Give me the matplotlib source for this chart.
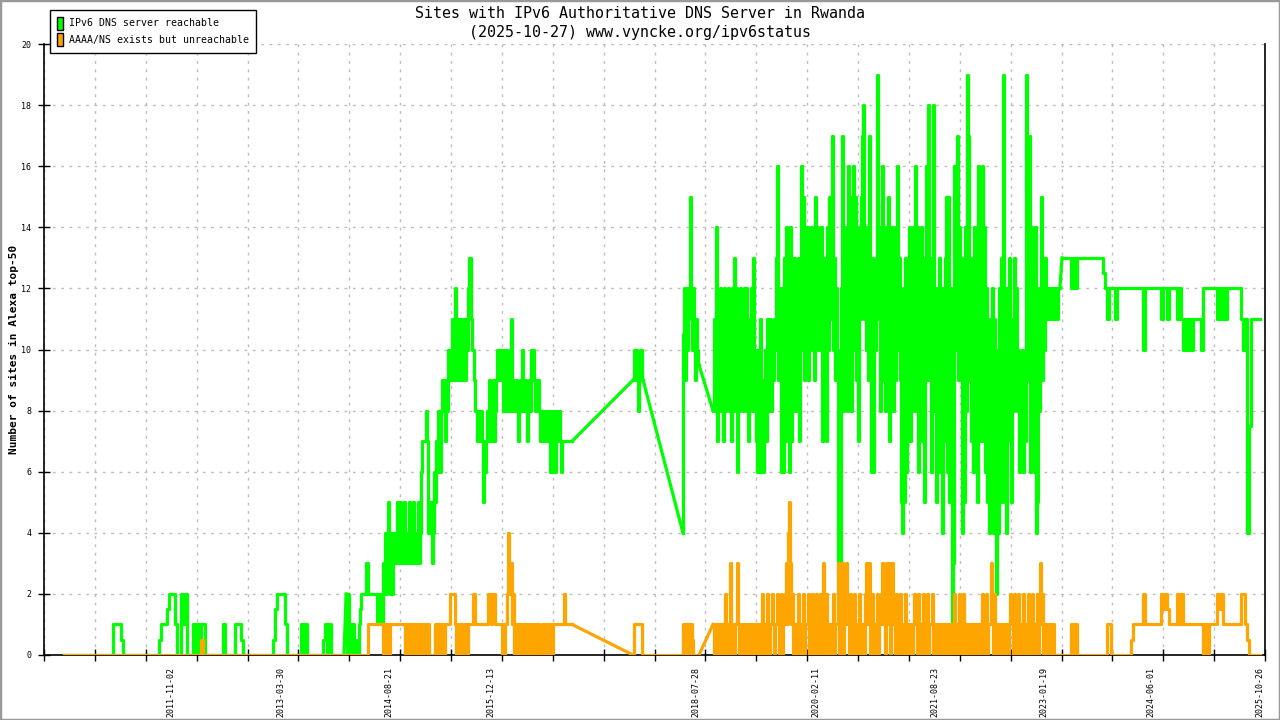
import numpy as np
import matplotlib
matplotlib.use("Agg")
import matplotlib.pyplot as plt
import matplotlib.dates as mdates
from matplotlib.patches import Patch, Rectangle

title = "Sites with IPv6 Authoritative DNS Server in Rwanda\n(2025-10-27) www.vyncke.org/ipv6status"
ylabel = "Number of sites in Alexa top-50"
series_names = ["IPv6 DNS server reachable", "AAAA/NS exists but unreachable"]
label_dates = ["2011-11-02", "2013-03-30", "2014-08-21", "2015-12-13", "2018-07-28",
               "2020-02-11", "2021-08-23", "2023-01-19", "2024-06-01", "2025-10-26"]

# measurement runs (first day, last day); samples are evenly spread inside a run,
# the holes between runs get joined by a straight line like in the original
runs = [("2010-06-18", "2014-01-21"),
        ("2014-01-31", "2016-12-26"),
        ("2017-10-08", "2017-11-24"),
        ("2018-05-30", "2018-08-13"),
        ("2018-10-18", "2023-04-02"),
        ("2023-04-12", "2025-10-26")]

# --- reachable (green) ---
green_1 = ([0] * 25 + [1, 1, 1, 1, 0.5] + [0] * 18 + [0.5, 1, 1, 1, 1.5, 2, 2, 2, 1, 0, 0,
           2, 1, 2, 0, 0, 0, 1, 0, 1, 0, 1, 1, 0] + [0] * 8 + [1] + [0] * 5 + [1, 1, 1, 0.5]
           + [0] * 15 + [0.5, 1.5, 2, 2, 2, 2, 1] + [0] * 7 + [1, 0, 1] + [0] * 8
           + [0.5, 1, 0, 1, 0] + [0] * 6)
green_2 = [2, 0, 2, 1, 0, 1, 0, 1, 0, 0.5,
           0, 0.5, 0, 1, 1.5, 2, 2, 2, 2, 2,
           3, 3, 2, 2, 2, 2, 2, 2, 2, 2,
           2, 1, 1, 2, 1, 1, 1, 3, 2, 4,
           2, 3, 5, 3, 2, 4, 2, 4, 3, 3,
           4, 5, 3, 4, 5, 3, 4, 3, 5, 3,
           4, 3, 4, 5, 3, 4, 3, 5, 4, 3,
           3, 4, 5, 3, 4, 6, 7, 7, 7, 7,
           8, 7, 4, 5, 4, 5, 3, 4, 6, 5,
           7, 6, 8, 8, 6, 8, 9, 8, 9, 7,
           9, 8, 10, 9, 10, 9, 11, 10, 9, 12,
           9, 11, 9, 11, 9, 10, 11, 9, 11, 9,
           11, 10, 12, 13, 13, 11, 10, 10, 9, 8,
           8, 7, 7, 8, 7, 8, 7, 5, 7, 6,
           7, 8, 7, 9, 7, 8, 7, 9, 7, 8,
           9, 10, 9, 10, 10, 9, 10, 8, 10, 9,
           8, 10, 8, 9, 8, 11, 9, 8, 9, 8,
           9, 8, 7, 8, 9, 8, 10, 9, 8, 9,
           8, 7, 8, 9, 8, 10, 9, 10, 9, 8,
           9, 8, 9, 8, 7, 8, 7, 8, 7, 8,
           7, 8, 7, 8, 6, 8, 6, 7, 8, 6,
           7, 8, 7, 8, 7, 6, 7, 7, 7, 7,
           7, 7, 7, 7, 7, 7, 7]
green_3 = [9, 10, 9, 10, 9, 8, 9, 10, 10, 9, 9]
green_4 = [4, 10.5, 12, 9, 12, 10, 11, 12, 15, 12, 10, 12, 11, 9, 11, 10, 9.5]
green_5 = [8, 11, 9, 14, 7, 11, 8, 12, 9, 11,
           7, 12, 8, 10, 9, 12, 8, 11, 7, 12,
           9, 13, 8, 12, 6, 10, 8, 12, 9, 11,
           8, 12, 9, 12, 8, 7, 11, 9, 12, 8,
           13, 9, 10, 7, 6, 10, 6, 11, 6, 9,
           6, 8, 10, 7, 11, 8, 10, 11, 8, 10,
           9, 11, 10, 13, 16, 9, 12, 10, 11, 6,
           12, 6, 13, 7, 14, 8, 12, 6, 14, 7,
           12, 9, 13, 8, 11, 9, 13, 7, 12, 16,
           10, 15, 9, 14, 10, 14, 9, 13, 11, 14,
           10, 12, 9, 15, 11, 14, 10, 13, 11, 14,
           7, 13, 9, 12, 7, 14, 10, 15, 11, 14,
           17, 10, 13, 9, 12, 10, 1, 0.5, 1, 12,
           17, 8, 14, 9, 13, 8, 16, 10, 15, 8,
           14, 16, 10, 15, 9, 13, 7, 14, 11, 15,
           17, 18, 11, 14, 10, 13, 9, 17, 12, 6,
           13, 6, 12, 10, 13, 19, 11, 14, 8, 13,
           16, 9, 13, 8, 14, 10, 15, 7, 13, 9,
           14, 8, 12, 9, 14, 16, 10, 13, 9, 5,
           4, 12, 5, 13, 6, 12, 9, 14, 7, 13,
           9, 14, 8, 16, 10, 14, 6, 13, 8, 14,
           7, 12, 5, 13, 16, 9, 18, 10, 13, 6,
           12, 18, 8, 12, 5, 11, 7, 13, 6, 12,
           4, 12, 7, 13, 15, 6, 15, 5, 12, 9,
           0, 3, 16, 10, 15, 17, 9, 14, 10, 13,
           4, 12, 5, 14, 8, 19, 17, 9, 13, 7,
           12, 6, 14, 8, 12, 5, 16, 9, 13, 7,
           16, 10, 14, 6, 12, 5, 11, 4, 10, 5,
           12, 4, 11, 5, 2, 10, 4, 12, 6, 13,
           5, 19, 9, 12, 4, 12, 8, 13, 7, 5,
           11, 8, 13, 9, 12, 8, 10, 6, 9, 8,
           10, 6, 9, 7, 19, 9, 14, 17, 6, 14,
           7, 13, 6, 14, 4, 5, 12, 8, 12, 15,
           9, 12, 10, 13, 11, 12, 11, 12, 11, 12,
           11, 12, 11, 12, 12, 11, 12, 12]
green_6 = ([13] * 5 + [12, 13, 12, 13] + [13] * 12 + [12.5, 12, 11, 12, 12, 12, 11]
           + [12] * 13 + [10] + [12] * 8 + [11, 12, 12, 11] + [12] * 4
           + [11, 12, 11, 10, 11, 10, 11, 10] + [11] * 4 + [10] + [12] * 7
           + [11, 12, 11, 12, 11] + [12] * 7 + [11, 10, 11, 4, 7.5] + [11] * 5)

# --- exists but unreachable (orange) ---
orange_1 = [0] * 69 + [0.5] + [0] * 71
orange_2 = [0, 0, 0, 0, 0, 0, 0, 0, 0, 0,
            0, 0, 0, 0, 0, 0, 0, 0, 0, 0,
            0, 0, 1, 1, 1, 1, 1, 1, 1, 1,
            1, 1, 1, 1, 1, 1, 1, 0, 1, 0,
            1, 0, 1, 0, 1, 1, 1, 1, 1, 1,
            1, 1, 1, 1, 1, 1, 1, 1, 1, 0,
            1, 1, 0, 1, 1, 0, 1, 1, 1, 0,
            1, 0, 1, 0, 1, 0, 1, 0, 1, 0,
            1, 0, 1, 0, 0, 0, 0, 0, 0, 1,
            1, 0, 1, 1, 0, 1, 1, 1, 0, 1,
            1, 1, 1, 1, 2, 2, 2, 2, 2, 1,
            0, 1, 0, 1, 0, 1, 0, 1, 1, 0,
            1, 0, 1, 1, 1, 1, 1, 2, 2, 1,
            1, 1, 1, 1, 1, 1, 1, 1, 1, 1,
            1, 1, 2, 1.5, 2, 1, 2, 1.5, 2, 1,
            1, 1, 1, 1, 1, 1, 0, 1, 0, 1,
            1, 2, 4, 3, 2, 3, 1, 2, 0, 1,
            0, 1, 0, 1, 0, 1, 0, 1, 0, 1,
            0, 1, 0, 0, 1, 0, 0, 1, 0, 0,
            1, 0, 1, 0, 0, 0, 1, 0, 1, 0,
            1, 0, 0, 1, 0, 1, 0, 1, 1, 1,
            1, 1, 1, 1, 1, 1, 1, 1, 2, 1,
            1, 1, 1, 1, 1, 1, 1]
orange_3 = [0, 1, 1, 1, 1, 1, 1, 1, 1, 0, 0]
orange_4 = [0, 1, 0, 1, 0.5, 1, 0, 1, 0, 1, 0.5, 0, 0, 0, 0, 0, 0]
orange_5 = [1, 0, 1, 0, 1, 1, 0, 1, 0, 1,
            0, 1, 2, 0, 1, 1, 0, 3, 0, 1,
            1, 0, 1, 1, 3, 1, 0, 1, 0, 1,
            1, 0, 1, 0, 1, 1, 0, 1, 0, 1,
            0, 1, 1, 0, 1, 0, 1, 1, 0, 2,
            1, 0, 1, 0, 2, 1, 0, 1, 1, 2,
            1, 0, 1, 1, 2, 1, 0, 1, 1, 2,
            0, 1, 1, 2, 3, 1, 4, 5, 3, 1,
            2, 0, 1, 1, 1, 0, 2, 1, 0, 1,
            1, 2, 0, 1, 1, 1, 2, 0, 1, 1,
            2, 0, 1, 1, 2, 0, 1, 1, 2, 0,
            1, 3, 1, 0, 2, 1, 0, 1, 1, 0,
            1, 2, 0, 1, 1, 1, 3, 0, 2, 1,
            3, 0, 1, 1, 3, 1, 1, 0, 2, 1,
            1, 0, 2, 1, 0, 1, 1, 2, 0, 1,
            1, 1, 0, 2, 3, 1, 1, 3, 0, 1,
            2, 1, 0, 1, 1, 2, 0, 1, 1, 2,
            3, 1, 1, 0, 3, 1, 1, 3, 0, 1,
            3, 1, 1, 0, 2, 1, 1, 0, 2, 1,
            1, 0, 1, 2, 1, 0, 1, 0, 1, 1,
            0, 1, 2, 1, 1, 0, 2, 1, 1, 0,
            1, 2, 0, 1, 1, 2, 0, 1, 1, 1,
            2, 0, 1, 0, 1, 0, 1, 1, 0, 1,
            1, 0, 1, 0, 1, 0, 1, 1, 0, 1,
            0, 1, 2, 1, 0, 1, 1, 2, 0, 1,
            1, 2, 0, 1, 1, 0, 1, 0, 1, 1,
            0, 1, 1, 0, 1, 0, 1, 0, 1, 1,
            2, 0, 1, 1, 2, 0, 1, 1, 1, 3,
            1, 0, 2, 1, 0, 1, 1, 0, 1, 0,
            1, 0, 1, 1, 0, 1, 0, 1, 2, 1,
            1, 0, 2, 1, 1, 0, 2, 1, 0, 1,
            1, 2, 0, 1, 1, 0, 2, 1, 0, 1,
            2, 1, 0, 1, 1, 2, 0, 1, 3, 1,
            2, 0, 1, 1, 0, 1, 0, 0, 1, 0,
            0, 1, 0, 0, 0, 0, 0, 0]
orange_6 = ([0] * 5 + [1, 0, 1, 0] + [0] * 14 + [1, 1] + [0] * 10 + [0.5] + [1] * 5 + [2]
            + [1] * 8 + [2, 1.5, 2, 1.5] + [1] * 4 + [2, 1, 2, 1] + [1] * 9 + [0, 1, 0, 1]
            + [1] * 3 + [2, 1.5, 2, 1, 1] + [1] * 7 + [2, 2, 1] + [0.5] + [0] * 6)

green_parts = [green_1, green_2, green_3, green_4, green_5, green_6]
orange_parts = [orange_1, orange_2, orange_3, orange_4, orange_5, orange_6]


def draw_series(ax, parts, color, z):
    # steps inside each run, straight line across the holes between runs
    prev = None
    for (first, last), vals in zip(runs, parts):
        xs = np.linspace(mdates.datestr2num(first), mdates.datestr2num(last), len(vals))
        ys = np.asarray(vals, dtype=float)
        ax.plot(xs, ys, color=color, lw=2.3, drawstyle="steps-mid", zorder=z)
        if prev is not None:
            ax.plot([prev[0], xs[0]], [prev[1], ys[0]], color=color, lw=2.3, zorder=z)
        prev = (xs[-1], ys[-1])


mono = "DejaVu Sans Mono"
W, H = 1280, 720
fig = plt.figure(figsize=(W / 100, H / 100), dpi=100)
ax = fig.add_axes([44 / W, 65 / H, 1221 / W, 611 / H])

draw_series(ax, green_parts, "#00ff00", 3)
draw_series(ax, orange_parts, "#ffa500", 4)

x0, x1 = mdates.datestr2num("2010-03-16"), mdates.datestr2num("2025-11-19")
ax.set_xlim(x0, x1)
ax.set_ylim(0, 20)
ax.set_yticks(range(0, 21, 2))
ax.set_xticks(np.linspace(x0, x1, 25))
ax.set_xticklabels([])
ax.set_xticks([mdates.datestr2num(d) for d in label_dates], label_dates, minor=True)

ax.tick_params(axis="both", which="major", direction="inout", length=8, width=1,
               labelsize=6, pad=5)
ax.tick_params(axis="x", which="minor", length=0, pad=8.5, labelsize=6, labelrotation=90)
for lab in ax.get_xticklabels(minor=True) + ax.get_yticklabels():
    lab.set_family(mono)

ax.grid(True, which="major", color="#bdbdbd", linestyle=(0, (2, 4)), lw=1)
ax.spines["top"].set_visible(False)
for s in ("left", "bottom", "right"):
    ax.spines[s].set_linewidth(1.2)

ax.set_ylabel(ylabel, family=mono, fontsize=8, fontweight="bold")
ax.yaxis.set_label_coords(-25 / 1221, 0.5)

fig.suptitle(title, y=1 - 6 / H, va="top", family=mono, fontsize=10.8, linespacing=1.3)

handles = [Patch(facecolor="#00ff00", edgecolor="black"),
           Patch(facecolor="#ffa500", edgecolor="black")]
leg = fig.legend(handles, series_names, loc="upper left",
                 bbox_to_anchor=(50 / W, 1 - 10 / H), bbox_transform=fig.transFigure,
                 prop={"family": mono, "size": 7.1}, handlelength=0.6, handleheight=1.6,
                 handletextpad=0.6, labelspacing=0.35, borderpad=0.7, borderaxespad=0,
                 fancybox=False, edgecolor="black", framealpha=1)
leg.get_frame().set_linewidth(1)

fig.patches.append(Rectangle((0, 0), 1, 1, transform=fig.transFigure, fill=False,
                             edgecolor="#999999", lw=2.5))

fig.savefig("out.png", dpi=100)
